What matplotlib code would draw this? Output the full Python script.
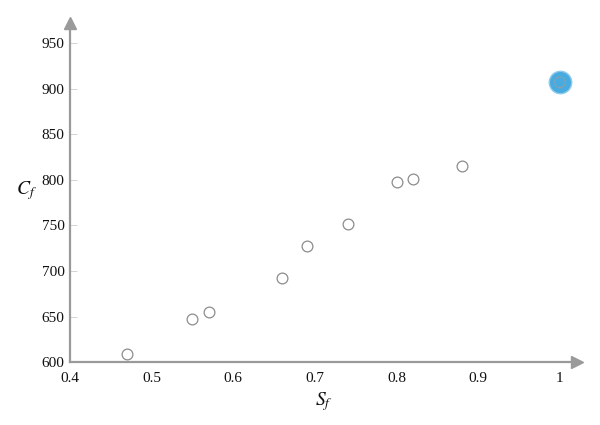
import matplotlib.pyplot as plt

plt.rcParams['font.family'] = ['Liberation Serif', 'DejaVu Serif']
plt.rcParams['mathtext.fontset'] = 'stix'

# data
sf = [0.47, 0.55, 0.57, 0.66, 0.69, 0.74, 0.80, 0.82, 0.88]
cf = [609, 647, 655, 692, 727, 751, 797, 801, 815]
best_sf = [1.0]
best_cf = [907]

xticks = [0.4, 0.5, 0.6, 0.7, 0.8, 0.9, 1.0]
xtick_labels = ['0.4', '0.5', '0.6', '0.7', '0.8', '0.9', '1']
yticks = [600, 650, 700, 750, 800, 850, 900, 950]

axis_col = '#9a9a9a'

fig = plt.figure(figsize=(6, 4.25), dpi=100)
ax = fig.add_axes([0.1167, 0.148, 0.845, 0.798])

ax.scatter(sf, cf, s=60, facecolors='white', edgecolors='#8c8c8c', linewidths=0.9, zorder=3)
# highlighted point
ax.scatter(best_sf, best_cf, s=260, color='#48abdf', edgecolors='#8ccbeb', linewidths=1.0, zorder=3)
ax.scatter(best_sf, best_cf, s=60, facecolors='none', edgecolors='#a0a0a0', linewidths=0.9,
           linestyle=(0, (1, 1)), zorder=4)

ax.set_xlim(0.4, 1.021)
ax.set_ylim(600, 972)
ax.set_xticks(xticks)
ax.set_xticklabels(xtick_labels)
ax.set_yticks(yticks)

for s in ['top', 'right']:
    ax.spines[s].set_visible(False)
for s in ['left', 'bottom']:
    ax.spines[s].set_color(axis_col)
    ax.spines[s].set_linewidth(1.6)

ax.tick_params(axis='x', length=0, pad=7, labelsize=11, colors='#111111')
ax.tick_params(axis='y', direction='in', length=5, width=0.6, color='#cccccc', pad=4,
               labelsize=11, labelcolor='#111111')

# arrow heads at the axis ends
ax.plot(1, 0, marker='>', ms=8, color=axis_col, transform=ax.transAxes, clip_on=False)
ax.plot(0, 1, marker='^', ms=8, color=axis_col, transform=ax.transAxes, clip_on=False)

ax.set_xlabel('$S_f$', fontsize=14, labelpad=4, color='#111111')
ax.set_ylabel('$C_f$', fontsize=14, rotation=0, color='#111111', va='center', ha='center')
ax.yaxis.set_label_coords(-0.087, 0.505)

fig.savefig('out.png', dpi=100)
